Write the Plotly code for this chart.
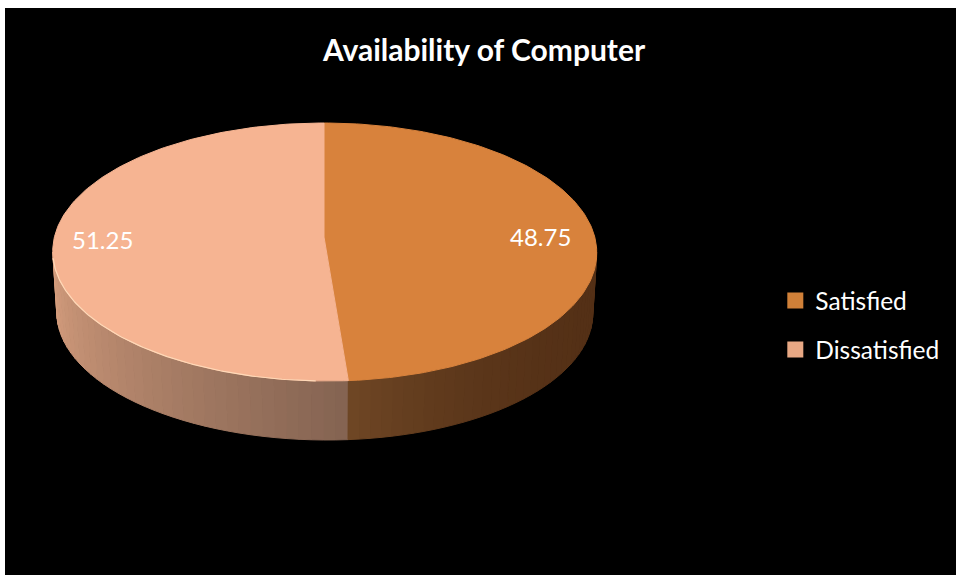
import numpy as np
import plotly.graph_objects as go

title = "Availability of Computer"
categories = ["Satisfied", "Dissatisfied"]
values = [48.75, 51.25]

top_colors = ["#d8823c", "#f6b492"]
swatch_colors = ["#d08038", "#e8a884"]
side_from = [(110, 70, 36), (214, 158, 126)]
side_to = [(84, 48, 22), (133, 100, 82)]

# pie geometry in pixel-like axis units
CX, CY, RX, RY = 324, 252, 272, 129
APEX_Y = 237
BX, BY, BRX, BRY = 324, 313, 268, 127
SKEW = 3


def top_pt(t):
    return CX + RX * np.sin(t) + SKEW * ((1 - np.cos(t)) / 2) ** 2, CY - RY * np.cos(t)


def bot_pt(t):
    return BX + BRX * np.sin(t) + SKEW * ((1 - np.cos(t)) / 2) ** 2, BY - BRY * np.cos(t)


def lerp(a, b, f):
    return "rgb(%d,%d,%d)" % tuple(round(a[i] + (b[i] - a[i]) * f) for i in range(3))


fig = go.Figure()
total = sum(values)
edges = np.cumsum([0] + values) / total * 2 * np.pi

# side wall strips, front half only (90 to 270 degrees clockwise from top)
front_lo, front_hi = np.pi / 2, 3 * np.pi / 2
seam = edges[1]
n_strips = 36
right = np.linspace(front_lo, seam, n_strips + 1)
left = np.linspace(seam, front_hi, n_strips + 1)
for k in range(n_strips):
    f = k / (n_strips - 1)
    # right wall: dark brown at the outside, warmer close to the seam
    t0, t1 = right[k], right[k + 1]
    xt, yt = top_pt(np.linspace(t0, t1, 5))
    xb, yb = bot_pt(np.linspace(t1, t0, 5))
    c = lerp(side_to[0], side_from[0], f ** 3)
    fig.add_trace(go.Scatter(x=np.r_[xt, xb, xt[0]], y=np.r_[yt, yb, yt[0]], mode="lines",
                             fill="toself", fillcolor=c, line=dict(color=c, width=1),
                             showlegend=False, hoverinfo="skip"))
    # left wall: dark next to the seam, light at the outside
    t0, t1 = left[k], left[k + 1]
    xt, yt = top_pt(np.linspace(t0, t1, 5))
    xb, yb = bot_pt(np.linspace(t1, t0, 5))
    c = lerp(side_to[1], side_from[1], f)
    fig.add_trace(go.Scatter(x=np.r_[xt, xb, xt[0]], y=np.r_[yt, yb, yt[0]], mode="lines",
                             fill="toself", fillcolor=c, line=dict(color=c, width=1),
                             showlegend=False, hoverinfo="skip"))

# top face wedges
for i, cat in enumerate(categories):
    th = np.linspace(edges[i], edges[i + 1], 181)
    ex, ey = top_pt(th)
    fig.add_trace(go.Scatter(x=np.r_[CX, ex, CX], y=np.r_[APEX_Y, ey, APEX_Y], mode="lines",
                             fill="toself", fillcolor=top_colors[i],
                             line=dict(color=top_colors[i], width=1),
                             name=cat, showlegend=False, hoverinfo="name"))

# pale rim along the front of the light slice
th = np.linspace(seam + 0.12, front_hi - 0.05, 120)
ex, ey = top_pt(th)
fig.add_trace(go.Scatter(x=ex, y=ey, mode="lines", line=dict(color="#ffd9b8", width=1.2),
                         showlegend=False, hoverinfo="skip"))

# legend entries
for i, cat in enumerate(categories):
    fig.add_trace(go.Scatter(x=[None], y=[None], mode="markers", name=cat, legendgroup=cat,
                             marker=dict(symbol="square", size=16, color=swatch_colors[i])))

# value labels
for i, v in enumerate(values):
    mid = (edges[i] + edges[i + 1]) / 2
    fig.add_annotation(x=CX - 2.5 + 0.807 * RX * np.sin(mid), y=APEX_Y + 1 - 0.35 * RY * np.cos(mid),
                       xref="x", yref="y", text=f"{v:.2f}", showarrow=False,
                       font=dict(family="Lato", size=24, color="white"))

fig.update_layout(
    width=956, height=575,
    margin=dict(l=5, r=0, t=8, b=0, pad=0),
    paper_bgcolor="white", plot_bgcolor="black",
    title=dict(text=f"<b>{title}</b>", x=484 / 956, y=1 - 50 / 575, xanchor="center", yanchor="middle",
               font=dict(family="Lato", size=30, color="white")),
    xaxis=dict(range=[5, 956], visible=False, fixedrange=True),
    yaxis=dict(range=[575, 8], visible=False, fixedrange=True),
    showlegend=True,
    legend=dict(x=0.810, y=0.5235, xanchor="left", yanchor="top", tracegroupgap=14, itemsizing="trace",
                font=dict(family="Lato", size=24.5, color="white"), bgcolor="rgba(0,0,0,0)"),
)
fig.write_html("out.html", config=dict(displayModeBar=False),
               post_script="document.body.style.margin='0';document.documentElement.style.overflow='hidden';")
